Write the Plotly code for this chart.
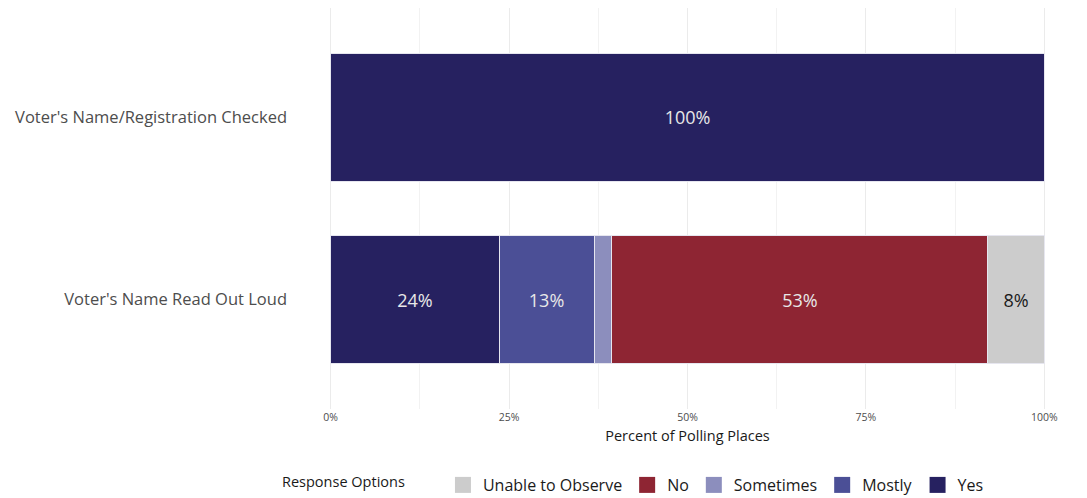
import plotly.graph_objects as go

categories = ["Voter's Name/Registration Checked", "Voter's Name Read Out Loud"]
yes = [100, 23.6]
mostly = [0, 13.3]
sometimes = [0, 2.5]
no = [0, 52.7]
unable = [0, 7.9]

series = [
    ("Yes", yes, "#262160", "#e8e8e8"),
    ("Mostly", mostly, "#4b4f96", "#e8e8e8"),
    ("Sometimes", sometimes, "#8c8ebd", "#e8e8e8"),
    ("No", no, "#8e2533", "#e8e8e8"),
    ("Unable to Observe", unable, "#cccccc", "#1a1a1a"),
]

# page body has an 8px default margin; figure is sized to fit the window
W, H = 1079, 490
FONT = "Open Sans"
fig = go.Figure()
for name, vals, color, tcolor in series:
    labels = [f"{round(v)}%" if v >= 5 else "" for v in vals]
    fig.add_trace(go.Bar(
        y=categories, x=vals, name=name, orientation="h",
        marker=dict(color=color, line=dict(color="#e6e6ef", width=1)),
        text=labels, textposition="inside", insidetextanchor="middle",
        textfont=dict(color=tcolor, size=18, family=FONT),
        hoverinfo="x+name", showlegend=False, legendgroup=name,
    ))
    fig.add_trace(go.Scatter(
        x=[None], y=[None], mode="markers", name=name, legendgroup=name,
        marker=dict(symbol="square", size=16, color=color),
        showlegend=True, hoverinfo="skip",
    ))

fig.update_layout(
    width=W, height=H,
    barmode="stack",
    bargap=0.3,
    margin=dict(l=287, r=7, t=0, b=89, autoexpand=False),
    plot_bgcolor="white", paper_bgcolor="white",
    font=dict(family=FONT, color="#4d4d4d"),
    uniformtext=dict(mode="show", minsize=8),
    legend=dict(
        orientation="h",
        xref="container", yref="container",
        x=272 / W, xanchor="left", y=13 / H, yanchor="middle",
        traceorder="reversed", itemsizing="trace", tracegroupgap=30,
        title=dict(text="Response Options        ", font=dict(size=14.5, color="#1a1a1a"), side="left"),
        font=dict(size=16, color="#1a1a1a"),
        itemwidth=30,
    ),
)
fig.update_xaxes(
    range=[-5, 105], tickvals=[0, 25, 50, 75, 100],
    ticktext=["0%", "25%", "50%", "75%", "100%"],
    tickfont=dict(size=10.5, color="#4d4d4d"),
    showgrid=True, gridcolor="#ebebeb", gridwidth=1,
    minor=dict(dtick=12.5, tick0=0, showgrid=True, gridcolor="#f2f2f2", gridwidth=1),
    zeroline=False, showline=False, ticks="", automargin=False,
    title=dict(text="Percent of Polling Places", font=dict(size=14.5, color="#1a1a1a"), standoff=8),
)
fig.update_yaxes(
    categoryorder="array", categoryarray=categories,
    range=[1.6, -0.6], showgrid=False, zeroline=False, ticks="", automargin=False,
    tickfont=dict(size=16.5, color="#4d4d4d"), ticklabelstandoff=7,
)

fig.write_html("out.html")
